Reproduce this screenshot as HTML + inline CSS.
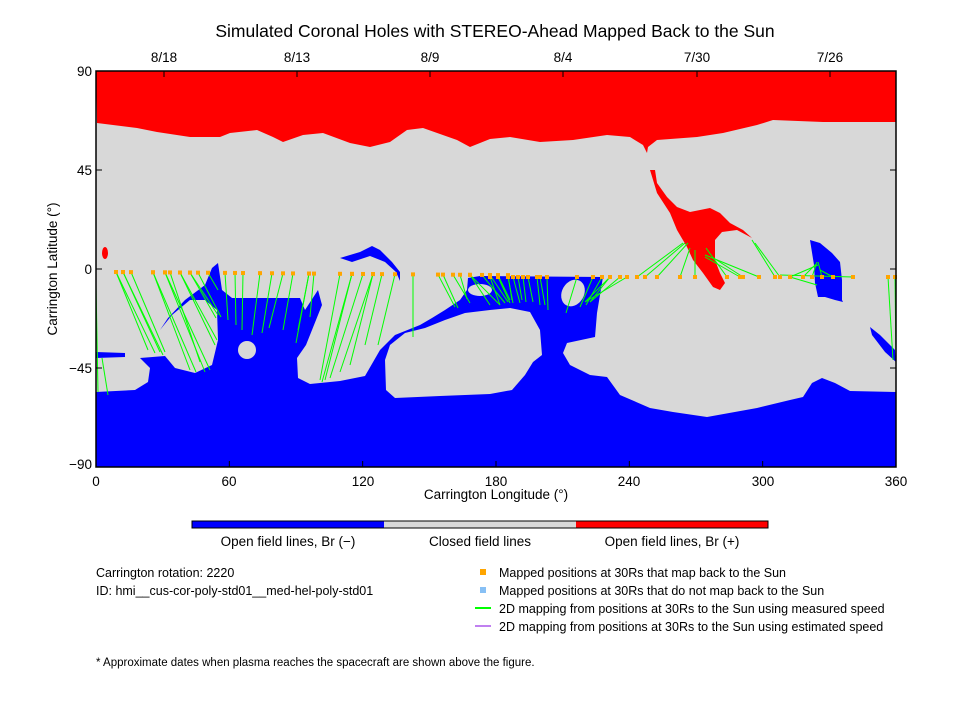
<!DOCTYPE html>
<html><head><meta charset="utf-8"><style>
body{margin:0;background:#fff;}
svg text{font-family:"Liberation Sans",sans-serif;fill:#000;}
</style></head><body>
<svg id="s" width="960" height="720" viewBox="0 0 960 720" xmlns="http://www.w3.org/2000/svg">
<rect width="960" height="720" fill="#fff"/>
<text x="495" y="37" font-size="17.5" text-anchor="middle">Simulated Coronal Holes with STEREO-Ahead Mapped Back to the Sun</text>
<g font-size="13.5" text-anchor="middle">
<text x="164" y="62">8/18</text><text x="297" y="62">8/13</text><text x="430" y="62">8/9</text><text x="563" y="62">8/4</text><text x="697" y="62">7/30</text><text x="830" y="62">7/26</text>
</g>
<rect x="96" y="71" width="800" height="396" fill="#d8d8d8"/>
<path fill="#ff0000" d="M96,71 L896,71 L896,122 L823,122 L773,120 L757,125 L723,133 L697,137 L657,140 L648,147 L647,153 L643,145 L630,137 L607,135 L573,140 L540,142 L510,137 L490,139 L470,147 L457,140 L423,128 L407,130 L390,142 L370,147 L350,143 L323,133 L303,135 L283,142 L273,137 L257,130 L230,133 L220,137 L190,137 L157,132 L137,128 L97,123 Z"/>
<path fill="#ff0000" d="M650,170 L657,193 L670,213 L677,230 L687,247 L693,260 L703,273 L713,287 L720,290 L725,283 L720,273 L715,260 L715,240 L722,232 L737,230 L752,238 L743,230 L730,223 L720,213 L710,208 L690,212 L677,207 L667,197 L657,183 L655,170 Z"/>
<ellipse cx="105" cy="253" rx="3" ry="6" fill="#ff0000"/>
<path fill="#0000ff" d="M96,467 L96,392 L135,390 L148,382 L150,368 L140,358 L165,356 L175,368 L195,373 L212,365 L218,340 L217,310 L205,300 L190,300 L172,315 L160,330 L168,318 L185,300 L205,285 L212,268 L218,263 L222,290 L232,298 L300,298 L305,310 L318,290 L322,305 L306,345 L297,358 L298,378 L310,384 L340,381 L365,376 L380,350 L395,335 L420,325 L432,318 L445,310 L460,300 L467,290 L468,278 L480,276 L603,277 L597,313 L595,337 L567,343 L563,353 L570,365 L590,375 L607,377 L620,395 L650,408 L673,412 L707,417 L757,408 L790,400 L803,397 L812,383 L822,378 L835,383 L850,391 L896,392 L896,467 Z"/>
<path fill="#0000ff" d="M96,352 L125,353 L125,357 L96,358 Z"/>
<path fill="#d8d8d8" d="M385,360 L390,345 L405,333 L425,328 L445,320 L465,313 L490,310 L510,308 L530,312 L540,330 L542,355 L533,362 L525,375 L512,390 L490,394 L440,396 L395,398 L386,390 Z"/>
<circle cx="247" cy="350" r="9" fill="#d8d8d8"/>
<ellipse cx="573" cy="293" rx="11" ry="14" transform="rotate(30 573 293)" fill="#d8d8d8"/>
<ellipse cx="480" cy="290" rx="12" ry="6" fill="#d8d8d8"/>
<path fill="#0000ff" d="M340,258 L360,252 L372,246 L380,250 L392,262 L400,272 L400,281 L396,272 L385,262 L370,256 L352,262 Z"/>
<path fill="#0000ff" d="M810,240 L820,243 L832,253 L840,262 L842,280 L842,300 L843,302 L835,300 L825,297 L818,297 L815,283 L814,265 Z"/>
<path fill="#0000ff" d="M870,327 L880,335 L895,350 L896,362 L885,352 L872,335 Z"/>
<g id="lines" stroke="#00ff00" stroke-width="1"></g>
<g id="dots" fill="#ffa500"></g>
<rect x="96" y="71" width="800" height="396" fill="none" stroke="#000" stroke-width="1.5"/>
<g stroke="#000" stroke-width="1" id="ticks"></g>
<g font-size="13.5" text-anchor="middle">
<text x="96" y="486">0</text><text x="229" y="486">60</text><text x="363" y="486">120</text><text x="496" y="486">180</text><text x="629" y="486">240</text><text x="763" y="486">300</text><text x="896" y="486">360</text>
<text x="496" y="499">Carrington Longitude (°)</text>
</g>
<g font-size="13.5" text-anchor="end">
<text x="92" y="76">90</text><text x="92" y="175">45</text><text x="92" y="274">0</text><text x="92" y="373">−45</text><text x="92" y="469">−90</text>
</g>
<text transform="translate(57 269) rotate(-90)" font-size="13.5" text-anchor="middle">Carrington Latitude (°)</text>
<rect x="192" y="521" width="192" height="7" fill="#0000ff"/>
<rect x="384" y="521" width="192" height="7" fill="#d8d8d8"/>
<rect x="576" y="521" width="192" height="7" fill="#ff0000"/>
<rect x="192" y="521" width="576" height="7" fill="none" stroke="#000" stroke-width="1"/>
<g font-size="13.5" text-anchor="middle">
<text x="288" y="546">Open field lines, Br (−)</text>
<text x="480" y="546">Closed field lines</text>
<text x="672" y="546">Open field lines, Br (+)</text>
</g>
<g font-size="12.5">
<text x="96" y="577">Carrington rotation: 2220</text>
<text x="96" y="595">ID: hmi__cus-cor-poly-std01__med-hel-poly-std01</text>
<text x="499" y="577">Mapped positions at 30Rs that map back to the Sun</text>
<text x="499" y="595">Mapped positions at 30Rs that do not map back to the Sun</text>
<text x="499" y="613">2D mapping from positions at 30Rs to the Sun using measured speed</text>
<text x="499" y="631">2D mapping from positions at 30Rs to the Sun using estimated speed</text>
<text x="96" y="666" font-size="11.5">* Approximate dates when plasma reaches the spacecraft are shown above the figure.</text>
</g>
<rect x="480" y="569" width="6" height="6" fill="#ffa500"/>
<rect x="480" y="587" width="6" height="6" fill="#87c0f5"/>
<rect x="475" y="607" width="16" height="2" fill="#00ff00"/>
<rect x="475" y="625" width="16" height="2" fill="#c080f0"/>
</svg>
<script>
(function(){
var NS="http://www.w3.org/2000/svg";
function el(p,t,a){var e=document.createElementNS(NS,t);for(var k in a)e.setAttribute(k,a[k]);p.appendChild(e);}
var L=document.getElementById("lines"),D=document.getElementById("dots"),T=document.getElementById("ticks");
var left=[[116,148,350],[116,155,353],[123,160,352],[123,163,355],[131,165,352],[153,190,370],[153,196,372],[165,205,372],[165,210,370],[170,200,362],[180,215,345],[180,217,340],[190,216,318],[190,218,315],[198,221,317],[208,218,290],[225,228,320],[235,236,325],[243,242,330],[260,252,335],[272,262,333],[283,269,328],[293,283,330],[309,298,330],[309,296,343],[314,310,317],[340,320,380],[352,322,382],[352,325,380],[363,330,378],[373,350,365],[373,340,372],[382,365,345],[395,378,345],[413,413,337],[438,455,307],[443,458,308],[453,470,303],[460,467,299],[470,490,305],[470,500,305],[482,505,303],[490,508,302],[498,510,300],[508,512,300]];
left.forEach(function(a){var y=272+(a[0]-116)*0.008;el(L,"line",{x1:a[0],y1:y,x2:a[1],y2:a[2]});el(D,"rect",{x:a[0]-2,y:y-2,width:4,height:4});});
var right=[[490,500,305],[498,510,303],[508,513,303],[513,520,303],[518,522,300],[523,526,302],[528,533,302],[537,540,305],[540,545,305],[547,548,310],[577,566,313],[593,580,307],[602,586,305],[610,585,302],[610,590,302],[620,590,302],[627,585,302],[637,683,243],[645,685,243],[657,688,243],[680,690,248],[695,695,250],[727,706,248],[740,705,257],[743,712,257],[759,705,255],[775,752,240],[780,755,243],[790,818,265],[790,817,285],[803,816,264],[812,817,262],[822,818,262],[833,820,270],[853,780,275],[888,893,360],[895,896,362]];
right.forEach(function(a){var y=277;el(L,"line",{x1:a[0],y1:y,x2:a[1],y2:a[2]});el(D,"rect",{x:a[0]-2,y:y-2,width:4,height:4});});
el(L,"line",{x1:96,y1:285,x2:98,y2:392});el(L,"line",{x1:102,y1:358,x2:108,y2:395});
[0,60,120,180,240,300,360].forEach(function(v){var x=96+v*800/360;el(T,"line",{x1:x,y1:467,x2:x,y2:461});});
[164,297,430,563,697,830].forEach(function(x){el(T,"line",{x1:x,y1:71,x2:x,y2:77});});
[71,170,269,368,467].forEach(function(y){el(T,"line",{x1:96,y1:y,x2:102,y2:y});el(T,"line",{x1:896,y1:y,x2:890,y2:y});});
})();
</script>
</body></html>
